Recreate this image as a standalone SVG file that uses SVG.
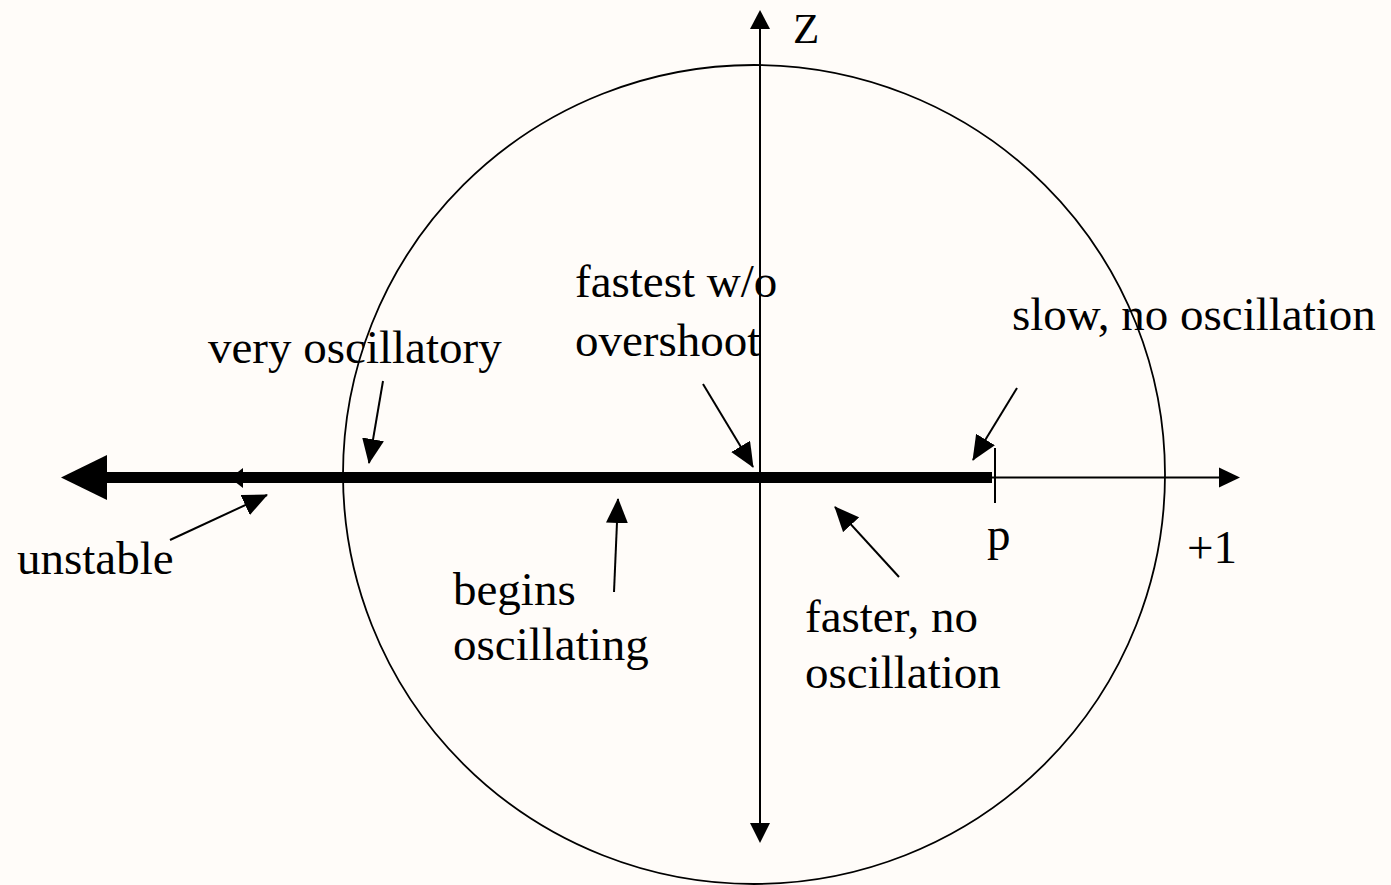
<svg xmlns="http://www.w3.org/2000/svg" width="1391" height="885" viewBox="0 0 1391 885">
  <style>
    .t { font-family: "Liberation Serif", "Times New Roman", serif; font-size: 47px; fill: #000; }
    .thin { stroke: #000; stroke-width: 2; fill: none; }
    .ann { stroke: #000; stroke-width: 2; fill: none; marker-end: url(#ah); }
  </style>
  <defs>
    <marker id="ah" markerUnits="userSpaceOnUse" markerWidth="25" markerHeight="22" viewBox="0 0 25 22" refX="24" refY="11" orient="auto">
      <path d="M0,0 L25,11 L0,22 Z" fill="#000"/>
    </marker>
  </defs>
  <rect x="0" y="0" width="1391" height="885" fill="#fffcf9"/>

  <g id="unit-circle">
    <ellipse cx="754" cy="474.5" rx="411" ry="409.5" fill="none" stroke="#000" stroke-width="1.8"/>
  </g>

  <g id="axes">
    <line class="thin" x1="760" y1="28" x2="760" y2="825"/>
    <polygon points="760,10 750,29 770,29" fill="#000"/>
    <polygon points="760,843 750,823 770,823" fill="#000"/>
    <line class="thin" x1="100" y1="477.5" x2="1220" y2="477.5"/>
    <polygon points="1240,477.5 1219,467.5 1219,487.5" fill="#000"/>
    <line x1="995" y1="448" x2="995" y2="503" stroke="#000" stroke-width="2"/>
  </g>

  <g id="root-locus">
    <line x1="105" y1="477.5" x2="992" y2="477.5" stroke="#000" stroke-width="11"/>
    <polygon points="61,477.5 107,455 107,500" fill="#000"/>
    <polygon points="230,478 243,468 243,488" fill="#000"/>
  </g>

  <g id="connectors">
    <line class="ann" x1="170" y1="540" x2="267" y2="495"/>
    <line class="ann" x1="383" y1="381" x2="369" y2="463"/>
    <line class="ann" x1="703" y1="384" x2="753" y2="467"/>
    <line class="ann" x1="1017" y1="388" x2="973" y2="460"/>
    <line class="ann" x1="614" y1="592" x2="618" y2="499"/>
    <line class="ann" x1="899" y1="577" x2="835" y2="507"/>
  </g>

  <g id="label-z"><text class="t" x="793" y="43" style="font-size:43px">Z</text></g>
  <g id="label-unstable"><text class="t" x="17" y="574">unstable</text></g>
  <g id="label-very-osc"><text class="t" x="208" y="363">very oscillatory</text></g>
  <g id="label-fastest">
    <text class="t" x="575" y="297">fastest w/o</text>
    <text class="t" x="575" y="356">overshoot</text>
  </g>
  <g id="label-slow"><text class="t" x="1012" y="330">slow, no oscillation</text></g>
  <g id="label-begins">
    <text class="t" x="453" y="605">begins</text>
    <text class="t" x="453" y="660">oscillating</text>
  </g>
  <g id="label-faster">
    <text class="t" x="805" y="632">faster, no</text>
    <text class="t" x="805" y="688">oscillation</text>
  </g>
  <g id="label-p"><text class="t" x="987" y="550">p</text></g>
  <g id="label-plus1"><text class="t" x="1187" y="563">+1</text></g>
</svg>
